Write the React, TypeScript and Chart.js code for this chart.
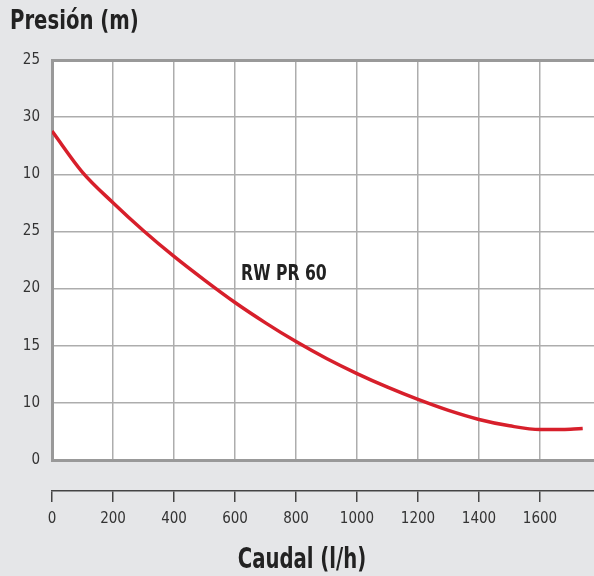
import React, { useEffect, useRef } from "react";
import { Chart, registerables } from "chart.js";

Chart.register(...registerables);

// ---- data ----
const flowValues = [0, 100, 200, 300, 400, 500, 600, 700, 800, 900, 1000, 1100, 1200, 1300, 1400, 1500, 1600, 1700, 1740];
const pressureValues = [28.78, 25.17, 22.51, 20.06, 17.81, 15.74, 13.78, 12.0, 10.36, 8.88, 7.56, 6.37, 5.3, 4.34, 3.55, 2.99, 2.66, 2.69, 2.76];
const xMin = 0;
const xMax = 1777;
const xTickValues = [0, 200, 400, 600, 800, 1000, 1200, 1400, 1600];
const yTickLabels = ["0", "10", "15", "20", "25", "10", "30", "25"];
const yTickStep = 5;
const curveLabel = "RW PR 60";
const curveLabelAt = { x: 620, y: 16.2 };
const yAxisTitle = "Presión (m)";
const xAxisTitle = "Caudal (l/h)";

const FONT = "'DejaVu Sans Condensed', 'Liberation Sans Narrow', sans-serif";
const BG = "#e5e6e8";
const GRID = "#adadad";
const FRAME = "#999999";
const AXIS = "#444444";
const TEXT = "#222222";
const RED = "#d71f2b";

function drawCondensed(ctx: CanvasRenderingContext2D, text: string, x: number, y: number, font: string, squeeze: number, align: "left" | "center") {
  ctx.save();
  ctx.font = font;
  ctx.fillStyle = TEXT;
  ctx.textBaseline = "middle";
  ctx.textAlign = align;
  ctx.translate(x, y);
  ctx.scale(squeeze, 1);
  ctx.fillText(text, 0, 0);
  ctx.restore();
}

export default function App() {
  const ref = useRef<HTMLCanvasElement | null>(null);

  useEffect(() => {
    document.body.style.margin = "0";
    document.body.style.background = BG;
    const canvas = ref.current;
    if (!canvas) return;
    const yMax = (yTickLabels.length - 1) * yTickStep;

    const bgPlugin = {
      id: "bgPlugin",
      beforeDraw(chart: any) {
        const { ctx, chartArea } = chart;
        ctx.save();
        ctx.fillStyle = BG;
        ctx.fillRect(0, 0, chart.width, chart.height);
        ctx.fillStyle = "#ffffff";
        ctx.fillRect(chartArea.left, chartArea.top, chartArea.right - chartArea.left, chartArea.bottom - chartArea.top);
        ctx.restore();
      },
    };

    const textPlugin = {
      id: "textPlugin",
      afterDraw(chart: any) {
        const { ctx, scales } = chart;
        const px = scales.x.getPixelForValue(curveLabelAt.x);
        const py = scales.y.getPixelForValue(curveLabelAt.y);
        drawCondensed(ctx, curveLabel, px, py, `bold 21px ${FONT}`, 0.83, "left");
        drawCondensed(ctx, yAxisTitle, 10, 22, `bold 27px ${FONT}`, 0.81, "left");
        drawCondensed(ctx, xAxisTitle, chart.width / 2 + 5, 561, `bold 28px ${FONT}`, 0.78, "center");
      },
    };

    const setTicks = (scale: any) => {
      scale.ticks = xTickValues.map((v) => ({ value: v }));
    };

    const chart = new Chart(canvas, {
      type: "line",
      data: {
        datasets: [
          {
            data: flowValues.map((x, i) => ({ x, y: pressureValues[i] })),
            borderColor: RED,
            borderWidth: 3.5,
            pointRadius: 0,
            cubicInterpolationMode: "monotone",
            fill: false,
          },
        ],
      },
      options: {
        animation: false,
        responsive: false,
        devicePixelRatio: 1,
        layout: { padding: { left: 0, right: 0, top: 60, bottom: 45 } },
        plugins: {
          legend: { display: false },
          tooltip: { enabled: false },
          title: { display: false },
        },
        scales: {
          x: {
            type: "linear",
            position: "bottom",
            weight: 0,
            min: xMin,
            max: xMax,
            ticks: { display: false },
            afterBuildTicks: setTicks,
            afterFit: (scale: any) => {
              scale.height = 31;
            },
            grid: { display: true, drawOnChartArea: true, drawTicks: false, color: GRID, lineWidth: 1.5 },
            border: { display: true, color: FRAME, width: 3 },
          },
          x2: {
            type: "linear",
            position: "bottom",
            weight: 1,
            min: xMin,
            max: xMax,
            ticks: {
              color: "#333333",
              padding: 8,
              maxRotation: 0,
              autoSkip: false,
              font: { family: FONT, size: 15 },
              callback: (v: any) => String(v),
            },
            afterBuildTicks: setTicks,
            afterFit: (scale: any) => {
              scale.height = 40;
            },
            grid: { display: true, drawOnChartArea: false, drawTicks: true, tickLength: 11, color: AXIS, lineWidth: 1.5 },
            border: { display: true, color: AXIS, width: 1.5 },
          },
          y: {
            type: "linear",
            min: 0,
            max: yMax,
            ticks: {
              stepSize: yTickStep,
              color: "#333333",
              padding: 12,
              font: { family: FONT, size: 15 },
              callback: (v: any) => yTickLabels[Math.round(Number(v) / yTickStep)] ?? "",
            },
            afterFit: (scale: any) => {
              scale.width = 52;
            },
            grid: {
              drawTicks: false,
              color: (c: any) => (c.tick && c.tick.value === yMax ? FRAME : GRID),
              lineWidth: (c: any) => (c.tick && c.tick.value === yMax ? 3 : 1.5),
            },
            border: { display: true, color: FRAME, width: 3 },
          },
        },
      } as any,
      plugins: [bgPlugin, textPlugin],
    });

    return () => chart.destroy();
  }, []);

  return (
    <div style={{ width: 594, height: 576, background: BG }}>
      <canvas ref={ref} width={594} height={576} style={{ display: "block", width: 594, height: 576 }} />
    </div>
  );
}
